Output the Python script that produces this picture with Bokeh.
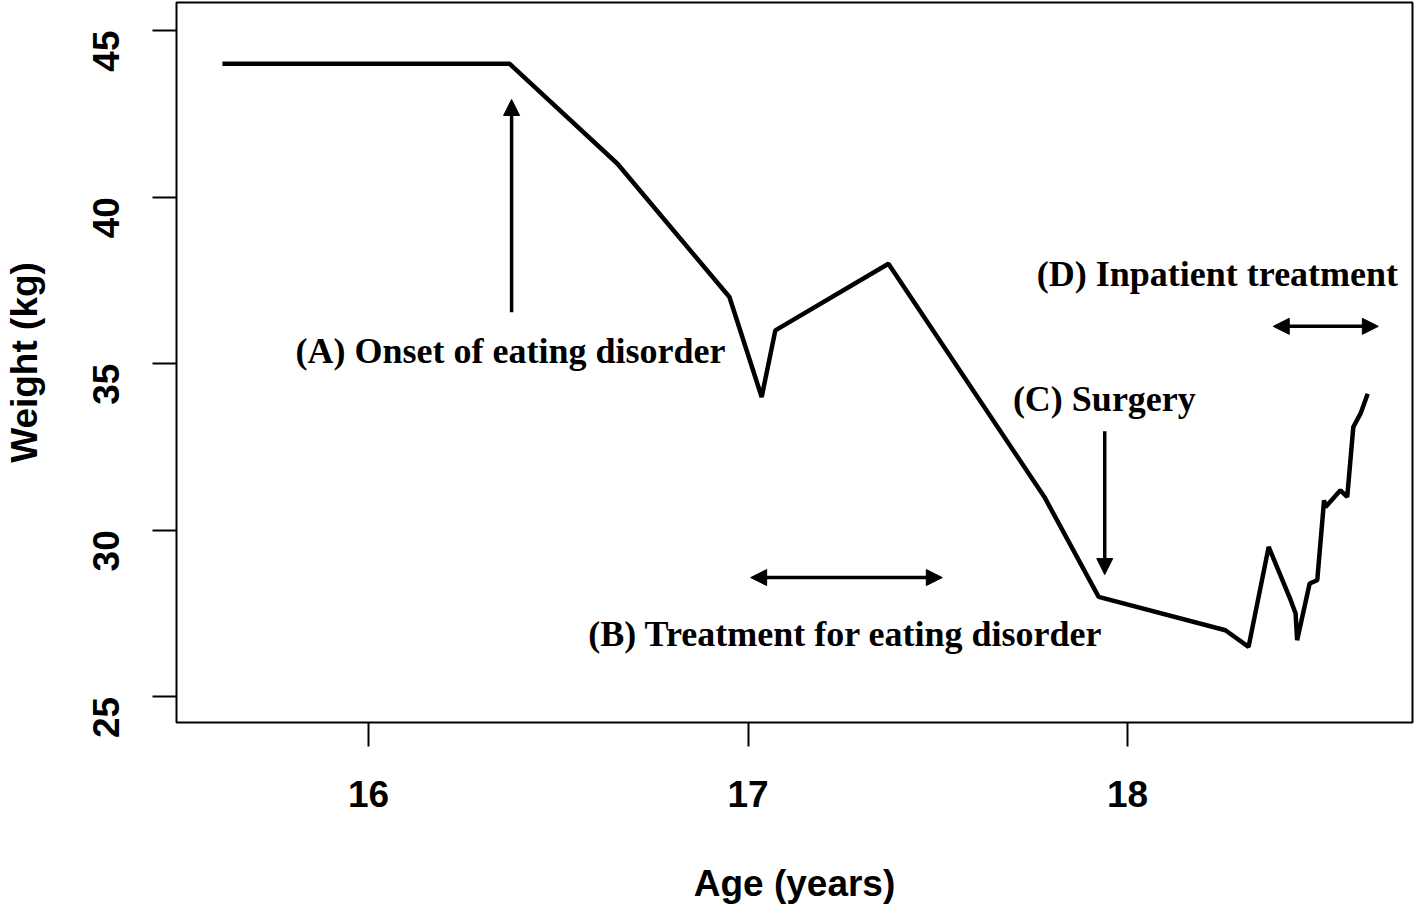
import math
from bokeh.plotting import figure
from bokeh.models import FixedTicker, Label, Arrow, NormalHead, Range1d
from bokeh.embed import file_html
from bokeh.resources import INLINE

# Data
age = [15.615, 16.372, 16.656, 16.951, 17.036, 17.072, 17.370, 17.781, 17.924,
       18.258, 18.319, 18.372, 18.430, 18.443, 18.447, 18.480, 18.500, 18.518,
       18.522, 18.561, 18.579, 18.595, 18.614, 18.633]
weight = [44.0, 44.0, 41.0, 37.0, 34.0, 36.0, 38.0, 31.0, 28.0,
          27.0, 26.5, 29.5, 27.9, 27.5, 26.7, 28.4, 28.5, 30.9,
          30.7, 31.2, 31.0, 33.1, 33.5, 34.1]

x_ticks = [16, 17, 18]
y_ticks = [25, 30, 35, 40, 45]

annotations = [
    ("(A) Onset of eating disorder", 16.374, 35.37),
    ("(B) Treatment for eating disorder", 17.257, 26.90),
    ("(C) Surgery", 17.939, 33.93),
    ("(D) Inpatient treatment", 18.237, 37.68),
]
# arrows: (x_start, y_start, x_end, y_end, two-headed)
arrows = [
    (16.377, 36.54, 16.377, 42.93, False),
    (17.007, 28.58, 17.512, 28.58, True),
    (17.940, 32.97, 17.940, 28.67, False),
    (18.384, 36.12, 18.661, 36.12, True),
]

p = figure(frame_width=1236, frame_height=720, output_backend="svg",
           toolbar_location=None, x_range=Range1d(15.494, 18.751),
           y_range=Range1d(24.23, 45.84),
           min_border_left=160, min_border_right=4, min_border_top=2,
           min_border_bottom=10)

p.grid.visible = False
p.outline_line_color = "black"
p.outline_line_width = 2
p.background_fill_color = "white"
p.border_fill_color = "white"

p.line(age, weight, line_color="black", line_width=4.5)

for (x0, y0, x1, y1, both) in arrows:
    end = NormalHead(size=16, fill_color="black", line_color="black")
    start = NormalHead(size=16, fill_color="black", line_color="black") if both else None
    p.add_layout(Arrow(x_start=x0, y_start=y0, x_end=x1, y_end=y1,
                       end=end, start=start, line_width=3.5, line_color="black"))

for (t, x, y) in annotations:
    p.add_layout(Label(x=x, y=y, text=t, text_align="center", text_baseline="middle",
                       text_font="Liberation Serif", text_font_style="bold",
                       text_font_size="36px", text_color="black"))

for ax in (p.xaxis[0], p.yaxis[0]):
    ax.axis_line_color = None
    ax.major_tick_in = 0
    ax.major_tick_out = 24
    ax.major_tick_line_width = 2
    ax.major_tick_line_color = "black"
    ax.minor_tick_line_color = None
    ax.major_label_text_font = "Liberation Sans"
    ax.major_label_text_font_style = "bold"
    ax.major_label_text_font_size = "37px"
    ax.major_label_text_color = "black"
    ax.axis_label_text_font = "Liberation Sans"
    ax.axis_label_text_font_style = "bold"
    ax.axis_label_text_font_size = "37px"
    ax.axis_label_text_color = "black"

p.xaxis.ticker = FixedTicker(ticks=x_ticks)
p.yaxis.ticker = FixedTicker(ticks=y_ticks)
p.xaxis.axis_label = "Age (years)"
p.yaxis.axis_label = "Weight (kg)"
p.xaxis.major_label_standoff = 34
p.xaxis.axis_label_standoff = 53
p.yaxis.major_label_orientation = math.pi / 2
p.yaxis.major_label_standoff = 46
p.yaxis.axis_label_standoff = 33

open("out.html", "w").write(file_html(p, INLINE))
